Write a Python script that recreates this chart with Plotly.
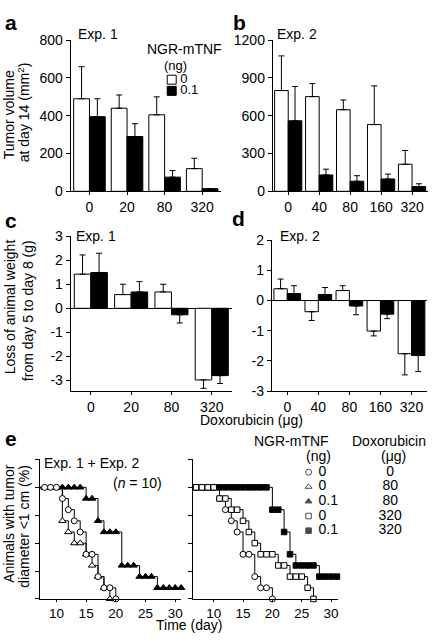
import plotly.graph_objects as go

W, H = 435, 643
FONT = "Liberation Sans, Arial, Helvetica, sans-serif"
FS = 14

# ---------------- data ----------------
# Panel a: tumour volume at day 14 (mm2), Exp. 1
a_doses = ["0", "20", "80", "320"]
a_ctrl = [490, 440, 405, 120]
a_ctrl_err = [170, 70, 95, 55]
a_ngr = [395, 290, 75, 14]
a_ngr_err = [95, 68, 35, 0]

# Panel b: tumour volume at day 14 (mm2), Exp. 2
b_doses = ["0", "40", "80", "160", "320"]
b_ctrl = [800, 752, 648, 530, 215]
b_ctrl_err = [275, 103, 77, 307, 109]
b_ngr = [560, 130, 80, 98, 38]
b_ngr_err = [272, 46, 44, 39, 22]

# Panel c: weight loss (g), Exp. 1
c_doses = ["0", "20", "80", "320"]
c_ctrl = [1.42, 0.57, 0.68, -2.98]
c_ctrl_err = [0.80, 0.43, 0.32, 0.35]
c_ngr = [1.49, 0.68, -0.27, -2.80]
c_ngr_err = [0.80, 0.43, 0.34, 0.33]

# Panel d: weight loss (g), Exp. 2
d_doses = ["0", "40", "80", "160", "320"]
d_ctrl = [0.39, -0.37, 0.33, -1.01, -1.76]
d_ctrl_err = [0.32, 0.29, 0.16, 0.16, 0.70]
d_ngr = [0.23, 0.20, -0.18, -0.45, -1.82]
d_ngr_err = [0.26, 0.23, 0.29, 0.15, 0.53]

# y tick values / labels
a_yticks = [0, 200, 400, 600, 800]
b_yticks = [0, 300, 600, 900, 1200]
c_yticks = [-3, -2, -1, 0, 1, 2, 3]
c_yticklabels = ["-3", "-2", "-1", "0", "1", "2", "3"]
d_yticks = [-3, -2, -1, 0, 1, 2]
d_yticklabels = ["-3", "-2", "-1", "0", "1", "2"]

# Panel e: animals with tumour diameter < 1 cm (%)
eL_ctrl_days = [7, 8, 9, 10, 11, 12, 13, 14, 15, 16, 17, 18, 19, 20]
eL_ctrl_pct = [100, 100, 100, 100, 90, 80, 70, 60, 40, 40, 20, 10, 10, 0]
eL_dox80_days = [7, 8, 9, 10, 11, 12, 13, 14, 15, 16, 17, 18, 19]
eL_dox80_pct = [100, 100, 100, 100, 70, 60, 50, 50, 40, 30, 20, 10, 0]
eL_ngr80_days = [7, 8, 9, 10, 11, 12, 13, 14, 15, 16, 17, 18, 19, 20, 21, 22, 23,
                 24, 25, 26, 27, 28, 29, 30, 31]
eL_ngr80_pct = [100, 100, 100, 100, 100, 100, 100, 100, 90, 90, 70, 60, 60, 60, 30, 30, 30,
                20, 20, 20, 10, 10, 10, 10, 10]

eR_ctrl_days = [7, 8, 9, 10, 11, 12, 13, 14, 15, 16, 17, 18, 19, 20]
eR_ctrl_pct = [100, 100, 100, 100, 90, 80, 70, 60, 40, 40, 20, 10, 10, 0]
eR_dox320_days = [7, 8, 9, 10, 11, 12, 13, 14, 15, 16, 17, 18, 19, 20, 21, 22, 23, 24, 25, 26, 27]
eR_dox320_pct = [100, 100, 100, 100, 90, 90, 80, 80, 70, 60, 50, 40, 40, 40, 30, 30, 20, 20, 20, 10, 0]
eR_ngr320_days = [7, 8, 9, 10, 11, 12, 13, 14, 15, 16, 17, 18, 19, 20, 21, 22, 23,
                  24, 25, 26, 27, 28, 29, 30, 31]
eR_ngr320_pct = [100, 100, 100, 100, 100, 100, 100, 100, 100, 100, 100, 100, 100, 80, 80, 60, 40,
                 30, 30, 30, 30, 20, 20, 20, 20]

e_ticks = [10, 15, 20, 25, 30]
e_yticks = [0, 25, 50, 75, 100, 125]

# legends
a_legend_ngr = ["0", "0.1"]
e_legend_ngr = ["0", "0", "0.1", "0", "0.1"]
e_legend_dox = ["0", "80", "80", "320", "320"]

# ---------------- helpers ----------------
def xd(p0, p1):
    return [p0 / W, p1 / W]

def yd(top, bottom):
    return [1 - bottom / H, 1 - top / H]

def px(x):
    return x / W

def py(y):
    return 1 - y / H

def err_dict(vals, errs):
    plus = [e if v >= 0 else 0 for v, e in zip(vals, errs)]
    minus = [e if v < 0 else 0 for v, e in zip(vals, errs)]
    return dict(type="data", symmetric=False, array=plus, arrayminus=minus,
                color="black", thickness=1, width=3)

fig = go.Figure()

def add_bars(x, ctrl, ctrl_err, ngr, ngr_err, xa, ya, w):
    fig.add_trace(go.Bar(x=x, y=ctrl, xaxis=xa, yaxis=ya, width=w, offset=-w,
                         marker=dict(color="white", line=dict(color="black", width=1)),
                         error_y=err_dict(ctrl, ctrl_err), showlegend=False, cliponaxis=False))
    fig.add_trace(go.Bar(x=x, y=ngr, xaxis=xa, yaxis=ya, width=w, offset=0,
                         marker=dict(color="black", line=dict(color="black", width=1)),
                         error_y=err_dict(ngr, ngr_err), showlegend=False, cliponaxis=False))

add_bars(a_doses, a_ctrl, a_ctrl_err, a_ngr, a_ngr_err, "x", "y", 0.42)
add_bars(b_doses, b_ctrl, b_ctrl_err, b_ngr, b_ngr_err, "x2", "y2", 0.44)
add_bars(c_doses, c_ctrl, c_ctrl_err, c_ngr, c_ngr_err, "x3", "y3", 0.41)
add_bars(d_doses, d_ctrl, d_ctrl_err, d_ngr, d_ngr_err, "x4", "y4", 0.43)

def add_surv(days, pct, xa, ya, symbol, fill, size):
    fig.add_trace(go.Scatter(x=days, y=pct, xaxis=xa, yaxis=ya, mode="lines+markers",
                             line=dict(color="black", width=1, shape="hv"),
                             marker=dict(symbol=symbol, size=size, color=fill,
                                         line=dict(color="black", width=1)),
                             showlegend=False, cliponaxis=False))

add_surv(eL_ngr80_days, eL_ngr80_pct, "x5", "y5", "triangle-up", "black", 6.5)
add_surv(eL_dox80_days, eL_dox80_pct, "x5", "y5", "triangle-up", "white", 6.5)
add_surv(eL_ctrl_days, eL_ctrl_pct, "x5", "y5", "circle", "white", 6)
add_surv(eR_ngr320_days, eR_ngr320_pct, "x6", "y6", "square", "black", 5.5)
add_surv(eR_ctrl_days, eR_ctrl_pct, "x6", "y6", "circle", "white", 6)
add_surv(eR_dox320_days, eR_dox320_pct, "x6", "y6", "square", "white", 5.5)

# legend key for panel a (hidden axis, rows = entries)
fig.add_trace(go.Scatter(x=[172.5] * len(a_legend_ngr), y=list(range(len(a_legend_ngr))),
                         xaxis="x7", yaxis="y7", mode="markers",
                         marker=dict(symbol="square", size=9, color=["white", "black"],
                                     line=dict(color="black", width=1)),
                         showlegend=False, cliponaxis=False))
fig.add_trace(go.Scatter(x=[181] * len(a_legend_ngr), y=list(range(len(a_legend_ngr))),
                         xaxis="x7", yaxis="y7", mode="text", text=a_legend_ngr,
                         textposition="middle right",
                         textfont=dict(family=FONT, size=13, color="black"),
                         showlegend=False, cliponaxis=False))

# legend key for panel e
n = len(e_legend_ngr)
fig.add_trace(go.Scatter(x=[310] * n, y=list(range(n)), xaxis="x8", yaxis="y8", mode="markers",
                         marker=dict(symbol=["circle", "triangle-up", "triangle-up", "square", "square"],
                                     size=[6, 6, 6, 5.5, 5.5],
                                     color=["white", "white", "black", "white", "black"],
                                     line=dict(color="black", width=1)),
                         showlegend=False, cliponaxis=False))
fig.add_trace(go.Scatter(x=[320] * n, y=list(range(n)), xaxis="x8", yaxis="y8", mode="text",
                         text=e_legend_ngr, textposition="middle right",
                         textfont=dict(family=FONT, size=FS, color="black"),
                         showlegend=False, cliponaxis=False))
fig.add_trace(go.Scatter(x=[392] * n, y=list(range(n)), xaxis="x8", yaxis="y8", mode="text",
                         text=e_legend_dox, textposition="middle center",
                         textfont=dict(family=FONT, size=FS, color="black"),
                         showlegend=False, cliponaxis=False))

tickfont = dict(family=FONT, size=FS, color="black")
base = dict(showline=True, linecolor="black", linewidth=1, ticks="outside", tickcolor="black",
            tickwidth=1, showgrid=False, zeroline=False, tickfont=tickfont, fixedrange=True)
etickfont = dict(family=FONT, size=13.5, color="black")

layout = dict(
    width=W, height=H, margin=dict(l=0, r=0, t=0, b=0),
    paper_bgcolor="white", plot_bgcolor="rgba(0,0,0,0)",
    barmode="overlay", showlegend=False,
    font=dict(family=FONT, size=FS, color="black"),
    xaxis=dict(base, domain=xd(71, 222), range=[-0.5, 3.5], type="category", ticklen=3, anchor="y"),
    yaxis=dict(base, domain=yd(33, 188), range=[0, 800], tickvals=a_yticks,
               ticklen=4, anchor="x"),
    xaxis2=dict(base, domain=xd(274, 429.5), range=[-0.5, 4.5], type="category", ticklen=3, anchor="y2"),
    yaxis2=dict(base, domain=yd(33, 188), range=[0, 1200], tickvals=b_yticks,
                ticklen=4, anchor="x2"),
    xaxis3=dict(base, domain=xd(71, 233), range=[-0.5, 3.5], type="category", ticklen=3, anchor="y3"),
    yaxis3=dict(base, domain=yd(234, 393), range=[-3.45, 3], tickvals=c_yticks, ticktext=c_yticklabels,
                ticklen=4, anchor="x3", zeroline=True, zerolinecolor="black", zerolinewidth=1),
    xaxis4=dict(base, domain=xd(273, 429), range=[-0.5, 4.5], type="category", ticklen=3, anchor="y4"),
    yaxis4=dict(base, domain=yd(238, 393), range=[-3, 2], tickvals=d_yticks, ticktext=d_yticklabels,
                ticklen=4, anchor="x4", zeroline=True, zerolinecolor="black", zerolinewidth=1),
    xaxis5=dict(base, domain=xd(40, 182), range=[7.2, 31.0], tickvals=e_ticks, ticklen=2,
                tickfont=etickfont, anchor="y5"),
    yaxis5=dict(base, domain=yd(463, 606), range=[0, 125], tickvals=e_yticks, showticklabels=False,
                ticklen=4, anchor="x5"),
    xaxis6=dict(base, domain=xd(194, 340), range=[6.5, 31.25], tickvals=e_ticks, ticklen=2,
                tickfont=etickfont, anchor="y6"),
    yaxis6=dict(base, domain=yd(463, 606), range=[0, 125], tickvals=e_yticks, showticklabels=False,
                ticklen=4, anchor="x6"),
    xaxis7=dict(domain=xd(160, 215), range=[160, 215], visible=False, fixedrange=True, anchor="y7"),
    yaxis7=dict(domain=yd(67.75, 90.75), range=[1.5, -0.5], visible=False, fixedrange=True, anchor="x7"),
    xaxis8=dict(domain=xd(300, 430), range=[300, 430], visible=False, fixedrange=True, anchor="y8"),
    yaxis8=dict(domain=yd(468.5, 543.5), range=[4.5, -0.5], visible=False, fixedrange=True, anchor="x8"),
)
fig.update_layout(**layout)

def ann(text, x, y, xanchor="center", size=FS, angle=0, bold=False, yanchor="middle"):
    if bold:
        text = "<b>" + text + "</b>"
    fig.add_annotation(text=text, x=px(x), y=py(y), xref="paper", yref="paper",
                       xanchor=xanchor, yanchor=yanchor, showarrow=False, textangle=angle,
                       font=dict(family=FONT, size=size, color="black"))

# panel letters
ann("a", 11, 15, size=21, bold=True)
ann("b", 241, 15, size=21, bold=True)
ann("c", 11, 218, size=21, bold=True)
ann("d", 240, 216, size=21, bold=True)
ann("e", 11, 441, size=21, bold=True)

# experiment labels
ann("Exp. 1", 76, 27, xanchor="left")
ann("Exp. 2", 276, 27, xanchor="left")
ann("Exp. 1", 74, 234, xanchor="left")
ann("Exp. 2", 279, 234, xanchor="left")
ann("Exp. 1 + Exp. 2", 42, 467, xanchor="left")
ann("(<i>n</i> = 10)", 138, 487)

# legend headers
ann("NGR-mTNF", 185, 42)
ann("(ng)", 176, 59, size=13)
ann("NGR-mTNF", 293, 444)
ann("(ng)", 320, 459)
ann("Doxorubicin", 391, 444)
ann("(μg)", 395, 459)

# axis titles
ann("Tumor volume", 9, 109, angle=-90)
ann("at day 14 (mm<sup>2</sup>)", 24, 107, angle=-90)
ann("Loss of animal weight", 10, 306, angle=-90)
ann("from day 5 to day 8 (g)", 28, 310, angle=-90)
ann("Animals with tumor", 9, 528, angle=-90)
ann("diameter <1 cm (%)", 24, 531, angle=-90)
ann("Doxorubicin (μg)", 253, 423)
ann("Time (day)", 190, 643, yanchor="bottom")

fig.write_html("out.html",
               config={"displayModeBar": False, "staticPlot": True},
               post_script="document.body.style.margin='0px';document.body.style.overflow='hidden';")
